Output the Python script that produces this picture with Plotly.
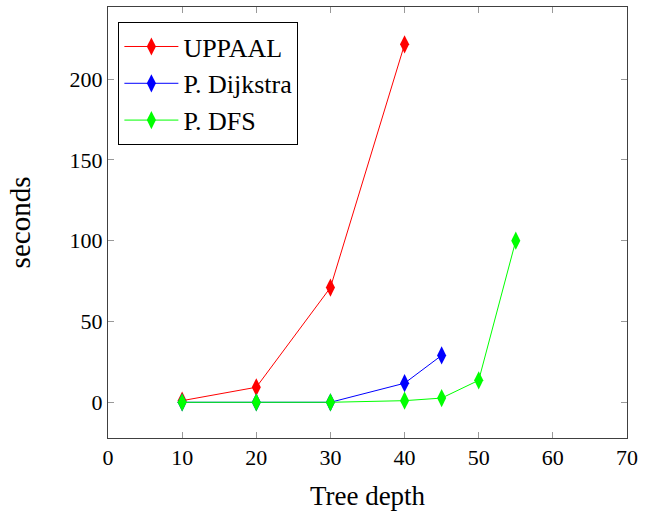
import plotly.graph_objects as go

depth_uppaal = [10, 20, 30, 40]
sec_uppaal = [1, 9.3, 71, 221.5]
depth_dijkstra = [10, 20, 30, 40, 45]
sec_dijkstra = [0, 0, 0, 11.8, 29]
depth_dfs = [10, 20, 30, 40, 45, 50, 55]
sec_dfs = [0, 0, 0, 1, 2.6, 13.6, 100]

x_ticks = [0, 10, 20, 30, 40, 50, 60, 70]
y_ticks = [0, 50, 100, 150, 200]

SERIF = "Liberation Serif, DejaVu Serif, serif"

fig = go.Figure()
series = [
    ("UPPAAL", depth_uppaal, sec_uppaal, "#ff0000"),
    ("P. Dijkstra", depth_dijkstra, sec_dijkstra, "#0000ff"),
    ("P. DFS", depth_dfs, sec_dfs, "#00ff00"),
]
for name, xs, ys, col in series:
    fig.add_trace(go.Scatter(
        x=xs, y=ys, name=name, mode="lines+markers",
        line=dict(color=col, width=1),
        marker=dict(symbol="diamond-tall", size=13, color=col),
    ))

axis_common = dict(
    showgrid=False, zeroline=False, showline=True, linecolor="#404040", linewidth=1,
    mirror="allticks", ticks="inside", ticklen=6, tickcolor="#999999",
    tickfont=dict(family=SERIF, size=22, color="black"),
)
fig.update_xaxes(range=[0, 70], tickvals=x_ticks,
                 title=dict(text="Tree depth", font=dict(family=SERIF, size=27, color="black"), standoff=16),
                 **axis_common)
fig.update_yaxes(range=[-22.1, 244.6], tickvals=y_ticks,
                 title=dict(text="seconds", font=dict(family=SERIF, size=29, color="black"), standoff=30),
                 **axis_common)

fig.update_layout(
    width=645, height=518,
    margin=dict(l=108, r=18, t=7, b=80),
    plot_bgcolor="white", paper_bgcolor="white",
    showlegend=True,
    legend=dict(x=0.02, y=0.965, xanchor="left", yanchor="top",
                bordercolor="black", borderwidth=1, bgcolor="white",
                font=dict(family=SERIF, size=26, color="black"),
                itemwidth=54, tracegroupgap=0),
)
fig.write_html("out.html", config={"displayModeBar": False},
               post_script="document.body.style.margin='0px';")
